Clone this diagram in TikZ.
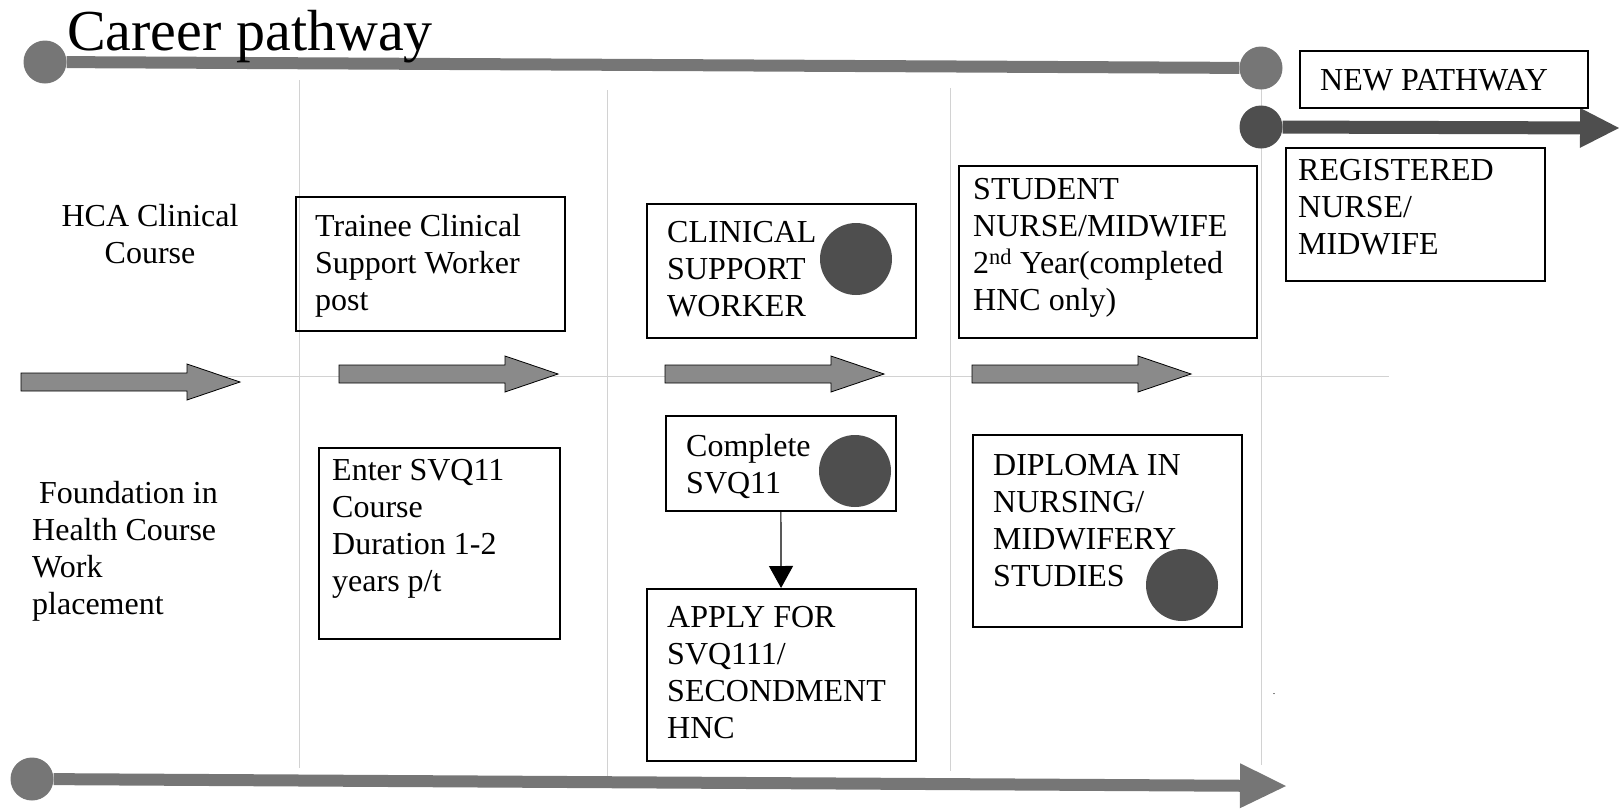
\documentclass[tikz,border=0pt]{standalone}
\usepackage{fontspec}
\setmainfont{Liberation Serif}
\newfontfamily\boxfont{Liberation Serif}
\usetikzlibrary{arrows.meta}
\definecolor{pathgray}{RGB}{118,118,118}
\definecolor{deepgray}{RGB}{78,78,78}
\definecolor{stepgray}{RGB}{138,138,138}
\definecolor{rulegray}{RGB}{210,210,210}
\tikzset{
	box/.style={draw, line width=1.5pt, inner sep=0, anchor=north west},
	txt/.style={font=\boxfont\fontsize{32}{37}\selectfont, align=left, inner sep=0, anchor=north west},
	blob/.style={circle, fill=deepgray, inner sep=0, minimum size=72pt},
	knob/.style={circle, fill=pathgray, inner sep=0, minimum size=43pt},
	blockarrow/.style={fill=stepgray, draw=black, line width=0.8pt},
	rule/.style={rulegray, line width=1pt},
}

\begin{document}
\begin{tikzpicture}[x=1pt,y=-1pt]
		\useasboundingbox (0,0) rectangle (1619,809);
		\foreach \x/\a/\b in {299/80/768, 607/90/776, 950/88/771, 1261/68/765} {
			\draw[rule] (\x,\a) -- (\x,\b);
		}
		\draw[rule] (21,376) -- (1389,376);
		\node[knob] (pl) at (45,62) {};
		\node[knob] (pr) at (1261,68) {};
		\draw[pathgray, line width=12pt] (pl) -- (pr);
		\node[anchor=base west, inner sep=0, font=\boxfont\fontsize{58}{60}\selectfont] (title) at (67,50) {Career pathway};
		\node[knob, fill=deepgray] (nl) at (1261,127) {};
		\coordinate (nr) at (1619,128);
		\draw[deepgray, line width=13pt, -{Triangle[length=39pt,width=40pt,line width=0pt]}] (nl) -- (nr);
		\node[knob] (bl) at (32,779) {};
		\coordinate (br) at (1286,786);
		\draw[pathgray, line width=12pt, -{Triangle[length=46pt,width=45pt,line width=0pt]}] (bl) -- (br);
		\foreach \x/\y in {21/382, 339/374, 665/374, 972/374} {
			\draw[blockarrow] (\x,\y-9) -- (\x+166,\y-9) -- (\x+166,\y-18) -- (\x+219,\y)
				-- (\x+166,\y+18) -- (\x+166,\y+9) -- (\x,\y+9) -- cycle;
		}
		\node[box, minimum width=288, minimum height=57] (np) at (1299,50) {};
		\node[txt] (npt) at (1320,69) {NEW PATHWAY};
		\node[box, minimum width=259, minimum height=133] (rnm) at (1285,147) {};
		\node[txt] (rnmt) at (1298,159) {REGISTERED\\NURSE/\\MIDWIFE};
		\node[txt, anchor=north, align=center] (hca) at (150,204) {HCA Clinical\\Course};
		\node[txt] (fnd) at (32,481) {\hspace*{7pt}Foundation in\\Health Course\\Work\\placement};
		\node[box, minimum width=269, minimum height=134] (tcsw) at (295,196) {};
		\node[txt] (tcswt) at (315,214) {Trainee Clinical\\Support Worker\\post};
		\node[box, minimum width=269, minimum height=134] (csw) at (646,203) {};
		\node[txt] (cswt) at (667,221) {CLINICAL\\SUPPORT\\WORKER};
		\node[blob] (cswb) at (856,259) {};
		\node[box, minimum width=298, minimum height=172] (snm) at (958,165) {};
		\node[txt] (snmt) at (973,178) {STUDENT\\NURSE/MIDWIFE\\2\textsuperscript{nd} Year(completed\\HNC only)};
		\node[box, minimum width=241, minimum height=191] (svq) at (318,447) {};
		\node[txt] (svqt) at (332,459) {Enter SVQ11\\Course\\Duration 1-2\\years p/t};
		\node[box, minimum width=230, minimum height=95] (cmp) at (665,415) {};
		\node[txt] (cmpt) at (686,434) {Complete\\SVQ11};
		\node[blob] (cmpb) at (855,471) {};
		\node[box, minimum width=269, minimum height=172] (apl) at (646,588) {};
		\node[txt] (aplt) at (667,606) {APPLY FOR\\SVQ111/\\SECONDMENT\\HNC};
		\draw[line width=1.2pt, -{Triangle[length=22pt,width=24pt]}] (cmp) -- (apl);
		\node[box, minimum width=269, minimum height=192] (dip) at (972,434) {};
		\node[txt] (dipt) at (993,454) {DIPLOMA IN\\NURSING/\\MIDWIFERY\\STUDIES};
		\node[blob] (dipb) at (1182,585) {};
		\node[inner sep=0, font=\fontsize{10}{12}\selectfont] (stray) at (1274,694) {.};
		\end{tikzpicture}
\end{document}
